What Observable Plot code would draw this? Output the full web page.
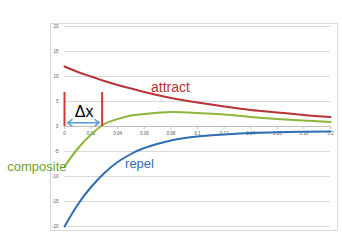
<!DOCTYPE html>
<html>
<head>
<meta charset="utf-8">
<script src="https://cdn.jsdelivr.net/npm/d3@7"></script>
<script src="https://cdn.jsdelivr.net/npm/@observablehq/plot@0.6"></script>
<style>
  html, body { margin: 0; padding: 0; background: #fff; }
  svg { display: block; }
</style>
</head>
<body>
<div id="chart"></div>
<script>
// Sampled x positions (data units)
const xs = [0, 0.01, 0.02, 0.03, 0.04, 0.05, 0.06, 0.08, 0.10, 0.12, 0.14, 0.16, 0.18, 0.20];
// Series values
const attract   = [12.0, 10.9, 10.0, 9.1, 8.3, 7.6, 6.9, 5.7, 4.8, 4.0, 3.3, 2.8, 2.3, 1.9];
const repel     = [-20.0, -15.6, -12.1, -9.3, -7.1, -5.5, -4.3, -2.8, -2.0, -1.6, -1.3, -1.15, -1.05, -1.0];
const composite = [-8.0, -4.4, -1.6, 0.5, 1.5, 2.2, 2.5, 2.9, 2.7, 2.4, 1.9, 1.5, 1.2, 0.9];

// Axis ticks
const xTicks = [0, 0.02, 0.04, 0.06, 0.08, 0.1, 0.12, 0.14, 0.16, 0.18, 0.2];
const xTickLabels = ["0", "0.02", "0.04", "0.06", "0.08", "0.1", "0.12", "0.14", "0.16", "0.18", "0.2"];
const yTicks = [-20, -15, -10, -5, 0, 5, 10, 15, 20];

// Δx annotation: composite zero crossing
const deltaX = [0, 0.0283];
const deltaTop = 6.8;

// Labels
const seriesLabels = ["attract", "repel", "composite"];
const deltaLabel = ["Δx"];

const toRows = vals => xs.map((x, i) => ({x, y: vals[i]}));

const font = "'Liberation Sans', Arial, sans-serif";
const arrowMid = (0.0023 + 0.0262) / 2;

const chart = Plot.plot({
  width: 342,
  height: 250,
  marginLeft: 64,
  marginRight: 12,
  marginTop: 26,
  marginBottom: 24,
  style: {fontFamily: font, background: "#fff"},
  x: {domain: [0, 0.2], axis: null},
  y: {domain: [-20, 20], axis: null},
  marks: [
    Plot.frame({stroke: "#d9d9d9", insetLeft: -14, insetRight: -7, insetTop: -3, insetBottom: -4}),
    Plot.ruleY(yTicks.filter(d => d !== 0), {stroke: "#d9d9d9", strokeWidth: 1}),
    Plot.ruleY([0], {stroke: "#bfbfbf", strokeWidth: 1}),
    Plot.ruleX(xTicks, {x: d => d, y1: 0, y2: -0.6, stroke: "#bfbfbf"}),
    Plot.text(yTicks, {x: 0, y: d => d, text: d => String(d), textAnchor: "end", dx: -6, fontSize: 4.5, fill: "#595959"}),
    Plot.text(xTicks, {x: d => d, y: 0, text: (d, i) => xTickLabels[i], dy: 7, fontSize: 4.5, fill: "#595959"}),
    Plot.line(toRows(attract), {x: "x", y: "y", stroke: "#b83236", strokeWidth: 2, curve: "natural"}),
    Plot.line(toRows(composite), {x: "x", y: "y", stroke: "#8cb63c", strokeWidth: 2, curve: "natural"}),
    Plot.line(toRows(repel), {x: "x", y: "y", stroke: "#2f6db5", strokeWidth: 2, curve: "natural"}),
    Plot.ruleX(deltaX, {x: d => d, y1: 0, y2: deltaTop, stroke: "#d23a3a", strokeWidth: 2}),
    Plot.arrow([{x1: arrowMid, x2: 0.0023, y: 0.75}, {x1: arrowMid, x2: 0.0262, y: 0.75}],
      {x1: "x1", x2: "x2", y1: "y", y2: "y", stroke: "#5b9bd5", strokeWidth: 1.5, headLength: 7, headAngle: 70}),
    Plot.text(deltaLabel, {x: 0.0147, y: 2.9, text: d => d, fontSize: 16, fill: "#000", lineAnchor: "middle"}),
    Plot.text([seriesLabels[0]], {x: 0.0797, y: 7.8, text: d => d, fontSize: 14, fill: "#b83236", lineAnchor: "middle"}),
    Plot.text([seriesLabels[1]], {x: 0.0564, y: -7.4, text: d => d, fontSize: 13, fill: "#2f6db5", lineAnchor: "middle"}),
    Plot.text([seriesLabels[2]], {x: 0.0015, y: -8, text: d => d, fontSize: 13, fill: "#6f9f2a", textAnchor: "end", lineAnchor: "middle"})
  ]
});
document.getElementById("chart").appendChild(chart);
</script>
</body>
</html>
